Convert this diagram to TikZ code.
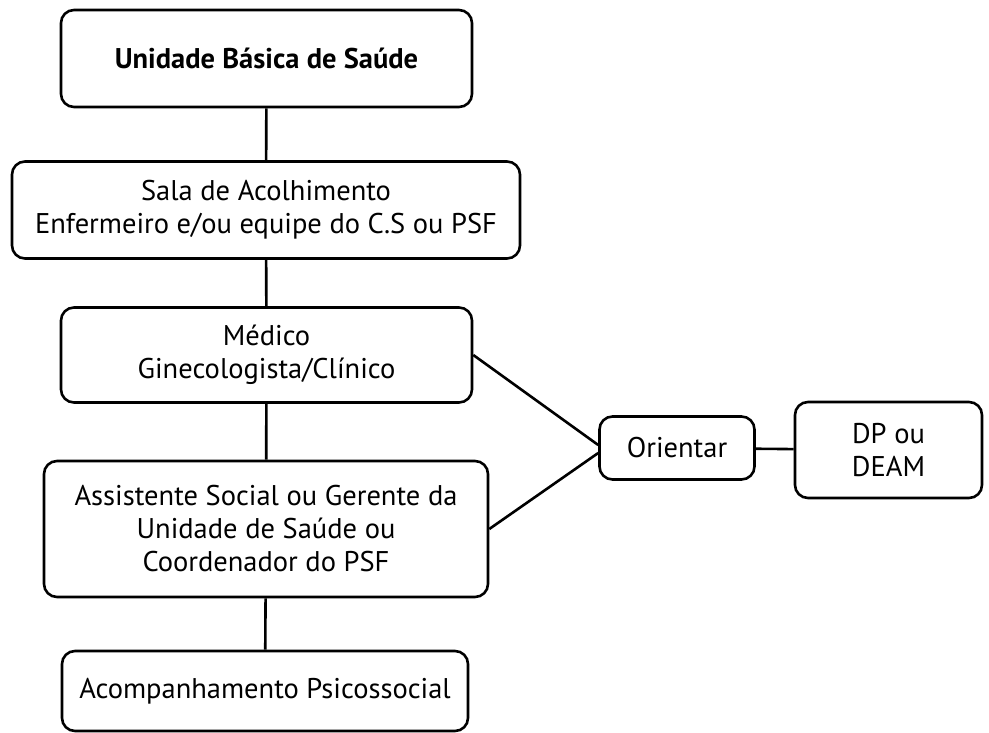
\documentclass[tikz,border=0pt]{standalone}
\usepackage{fontspec}
\setmainfont{PT Sans}
\begin{document}
\begin{tikzpicture}[x=1pt,y=-1pt,
  box/.style={draw, line width=2.6pt, rounded corners=13pt, align=center,
    inner sep=0pt, font=\fontsize{28.5}{33}\selectfont},
  conn/.style={line width=2.6pt}]
\useasboundingbox (0,0) rectangle (989,733);
\node[box, minimum width=411pt, minimum height=97pt, font=\fontsize{28.5}{33}\selectfont\bfseries] (ubs) at (266.5,58.5) {Unidade Básica de Saúde};
\node[box, minimum width=508pt, minimum height=97pt] (sala) at (266,210) {Sala de Acolhimento\\Enfermeiro e/ou equipe do C.S ou PSF};
\node[box, minimum width=411pt, minimum height=95pt] (med) at (266.5,355) {Médico\\Ginecologista/Clínico};
\node[box, minimum width=444pt, minimum height=136pt] (asst) at (266,529) {Assistente Social ou Gerente da\\Unidade de Saúde ou\\Coordenador do PSF};
\node[box, minimum width=406pt, minimum height=80pt] (acomp) at (265,691) {Acompanhamento Psicossocial};
\node[box, minimum width=155pt, minimum height=63pt] (ori) at (677,448) {Orientar};
\node[box, minimum width=187pt, minimum height=96pt] (dp) at (888.5,450) {DP ou\\DEAM};
\draw[conn] (ubs) -- (sala);
\draw[conn] (sala) -- (med);
\draw[conn] (med) -- (asst);
\draw[conn] (asst) -- (acomp);
\draw[conn] (med.east) -- ([yshift=3pt]ori.west);
\draw[conn] (asst.east) -- ([yshift=-5pt]ori.west);
\draw[conn] (ori) -- (dp);
\end{tikzpicture}
\end{document}
